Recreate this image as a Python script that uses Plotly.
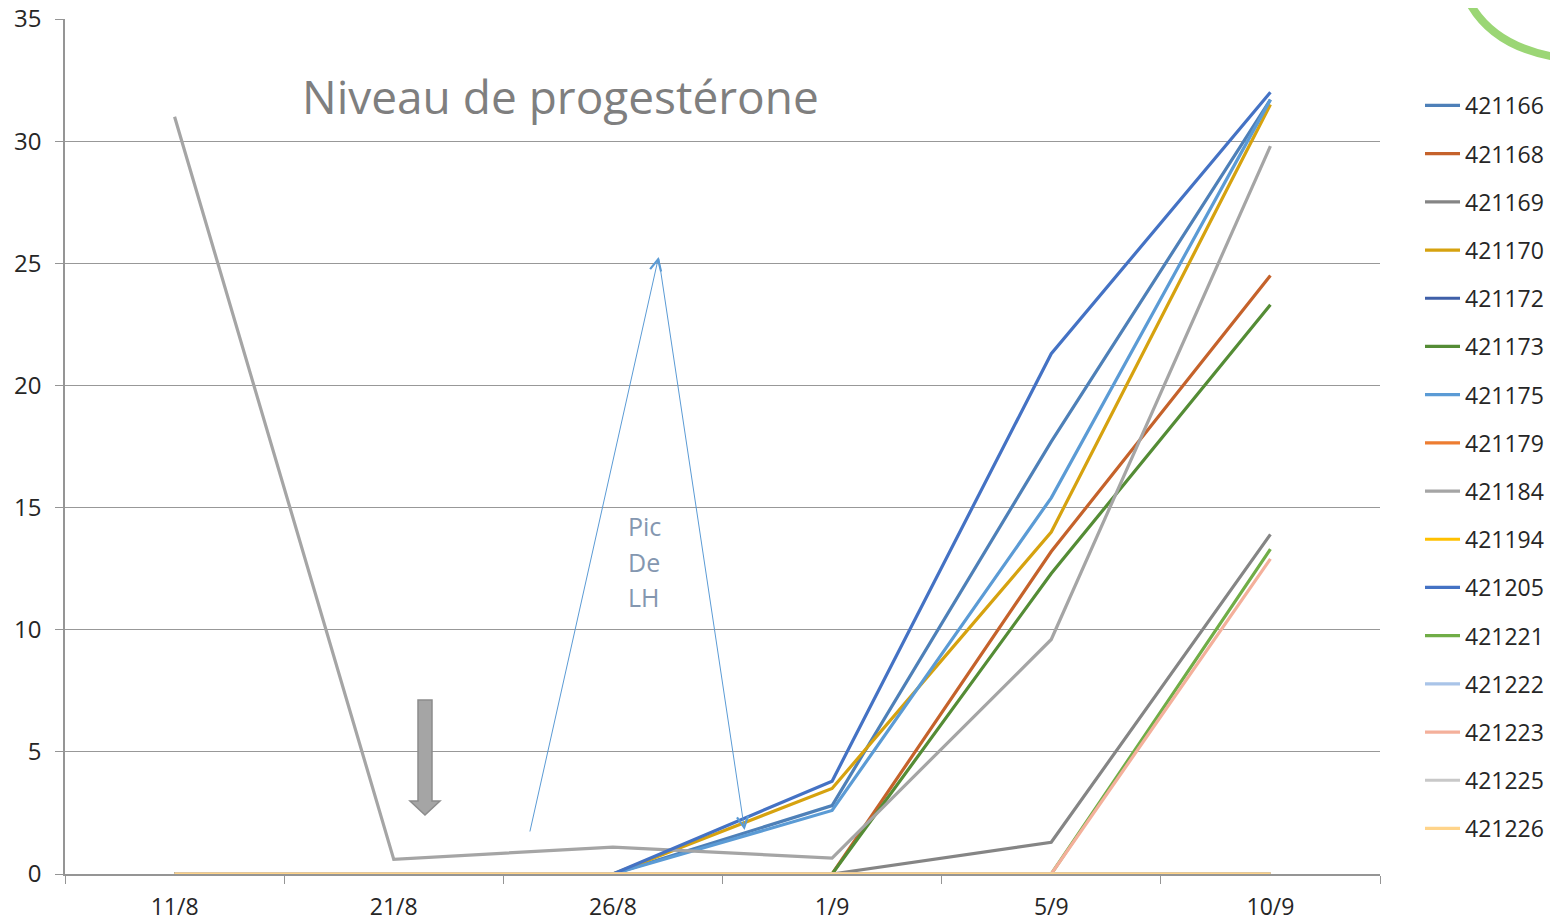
import plotly.graph_objects as go

dates = ["11/8", "21/8", "26/8", "1/9", "5/9", "10/9"]

s421166 = [0, 0, 0, 2.8, 17.7, 31.7]
s421168 = [0, 0, 0, 0, 13.2, 24.5]
s421169 = [0, 0, 0, 0, 1.3, 13.9]
s421170 = [0, 0, 0, 3.5, 14.0, 31.5]
s421172 = [0, 0, 0, 0, 0, 0]
s421173 = [0, 0, 0, 0, 12.3, 23.3]
s421175 = [0, 0, 0, 2.6, 15.4, 31.7]
s421179 = [0, 0, 0, 0, 0, 0]
s421184 = [31.0, 0.6, 1.1, 0.65, 9.6, 29.8]
s421194 = [0, 0, 0, 0, 0, 0]
s421205 = [0, 0, 0, 3.8, 21.3, 32.0]
s421221 = [0, 0, 0, 0, 0, 13.3]
s421222 = [0, 0, 0, 0, 0, 0]
s421223 = [0, 0, 0, 0, 0, 12.9]
s421225 = [0, 0, 0, 0, 0, 0]
s421226 = [0, 0, 0, 0, 0, 0]

series = [
    ("421166", s421166, "#4E80B8"),
    ("421168", s421168, "#C5622B"),
    ("421169", s421169, "#858585"),
    ("421170", s421170, "#D6A20F"),
    ("421172", s421172, "#3F5FA8"),
    ("421173", s421173, "#548C35"),
    ("421175", s421175, "#5B9BD5"),
    ("421179", s421179, "#ED7D31"),
    ("421184", s421184, "#A5A5A5"),
    ("421194", s421194, "#FFC000"),
    ("421205", s421205, "#4472C4"),
    ("421221", s421221, "#70AD47"),
    ("421222", s421222, "#A9C4E8"),
    ("421223", s421223, "#F4B09B"),
    ("421225", s421225, "#C8C8C8"),
    ("421226", s421226, "#FFD48A"),
]

# page geometry (the html body adds an 8px margin)
OFF = 8
PAGE_W, PAGE_H = 1558, 922
W, H = PAGE_W - OFF, PAGE_H - OFF
L, R, T, B = 65, 1380, 19, 874  # plot area in page pixels


def px(x):
    return (x - L) / (R - L)


def py(y):
    return (B - y) / (B - T)


def xi(x):
    return (x - 175) / 219.17


def yv(y):
    return (B - y) / ((B - T) / 35)


fig = go.Figure()
for name, vals, col in series:
    fig.add_trace(go.Scatter(x=dates, y=vals, name=name, mode="lines",
                             legendgroup=name,
                             line=dict(color=col, width=3.2)))

font = "Open Sans"
annotations = [
    dict(text="Niveau de progestérone", x=px(560), y=py(96), xref="paper", yref="paper",
         showarrow=False, font=dict(family=font, size=46, color="#7F7F7F"),
         xanchor="center", yanchor="middle"),
]
for t, yy in [("Pic", 526), ("De", 562), ("LH", 597)]:
    annotations.append(dict(text=t, x=px(626), y=py(yy), xref="paper", yref="paper",
                            showarrow=False, font=dict(family=font, size=25, color="#8497B0"),
                            xanchor="left", yanchor="middle"))
# LH arrows
annotations.append(dict(text="", x=xi(659), y=yv(257), ax=xi(530), ay=yv(833),
                        xref="x", yref="y", axref="x", ayref="y", showarrow=True,
                        arrowhead=5, arrowsize=2.2, arrowwidth=1, arrowcolor="#5B9BD5"))
annotations.append(dict(text="", x=xi(745), y=yv(830), ax=xi(659), ay=yv(257),
                        xref="x", yref="y", axref="x", ayref="y", showarrow=True,
                        arrowhead=5, arrowsize=2.2, arrowwidth=1, arrowcolor="#5B9BD5"))

# gray block arrow
pts = [(418, 700), (432, 700), (432, 801), (440, 801), (425, 815), (410, 801), (418, 801)]
path = "M" + " L".join(f"{px(a):.5f},{py(b):.5f}" for a, b in pts) + " Z"
shapes = [
    dict(type="path", path=path, xref="paper", yref="paper",
         fillcolor="#A5A5A5", line=dict(color="#8C8C8C", width=1.5)),
    dict(type="path", xref="paper", yref="paper",
         path=f"M{px(1466):.5f},{py(-4):.5f} Q{px(1490):.5f},{py(48):.5f} {px(1562):.5f},{py(58):.5f}",
         line=dict(color="#9BD675", width=8)),
]

fig.update_layout(
    width=W, height=H,
    margin=dict(l=L - OFF, r=PAGE_W - R, t=T - OFF, b=PAGE_H - B, autoexpand=False),
    paper_bgcolor="white", plot_bgcolor="white",
    showlegend=True,
    legend=dict(x=px(1420), y=py(84), xanchor="left", yanchor="top",
                font=dict(family=font, size=23, color="#262626"),
                itemwidth=35,
                tracegroupgap=15.3, traceorder="grouped", bgcolor="rgba(0,0,0,0)"),
    annotations=annotations,
    shapes=shapes,
    xaxis=dict(type="category", range=[-0.5, 5.5], showgrid=False,
               showline=True, linecolor="#959595", linewidth=1.5,
               ticks="outside", tickson="boundaries", ticklen=8, tickcolor="#959595",
               tickfont=dict(family=font, size=23, color="#262626"),
               ticklabelstandoff=12, ticklabeloverflow="allow",
               layer="below traces", zeroline=False),
    yaxis=dict(range=[0, 35], dtick=5, showgrid=True, gridcolor="#989898", gridwidth=1.4,
               showline=True, linecolor="#959595", linewidth=1.5,
               ticks="outside", ticklen=8, tickcolor="#959595",
               tickfont=dict(family=font, size=24, color="#262626"),
               ticklabelstandoff=9, ticklabeloverflow="allow",
               zeroline=False, layer="below traces"),
)

fig.write_html("out.html")
